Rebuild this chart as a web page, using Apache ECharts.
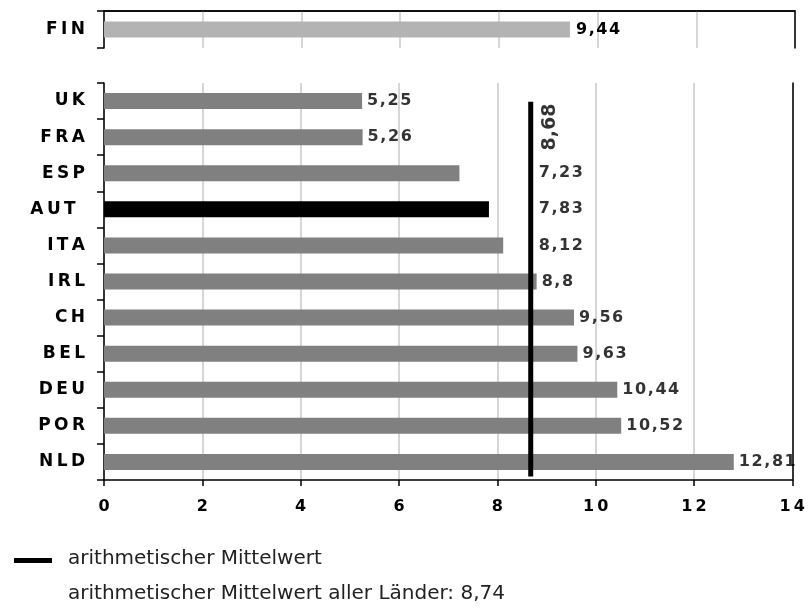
<!DOCTYPE html>
<html>
<head>
<meta charset="utf-8">
<script src="https://cdn.jsdelivr.net/npm/echarts@6/dist/echarts.min.js"></script>
<style>
  html, body { margin: 0; padding: 0; background: #ffffff; }
  #chart { width: 808px; height: 608px; }
</style>
</head>
<body>
<div id="chart"></div>
<script>
// Finland shown on its own, above the main country block
const topCategories = ['FIN'];
const topValues = [9.44];

// main block, top to bottom
const categories = ['UK', 'FRA', 'ESP', 'AUT', 'ITA', 'IRL', 'CH', 'BEL', 'DEU', 'POR', 'NLD'];
const values = [5.25, 5.26, 7.23, 7.83, 8.12, 8.8, 9.56, 9.63, 10.44, 10.52, 12.81];
const highlightCategory = 'AUT';

// averages
const meanValue = 8.68;
const meanAllCountries = 8.74;

// value axis
const xMin = 0;
const xMax = 14;
const xStep = 2;

const legendLabel = 'arithmetischer Mittelwert';
const noteLabel = 'arithmetischer Mittelwert aller Länder: ';

const THIN = '\u2009';
const HAIR = '\u200A';
const spaced = (s, sep) => Array.from(String(s)).join(sep);
const decimal = v => String(v).replace('.', ',');

const FONT = '"DejaVu Sans", Verdana, sans-serif';
const valueLabelStyle = {
  color: '#000', fontFamily: FONT, fontWeight: 'bold', fontSize: 16
};
const catLabelStyle = {
  color: '#000', fontFamily: FONT, fontWeight: 'bold', fontSize: 17, margin: 19
};

const grayBar = '#808080';
const finBar = '#b3b3b3';
const splitStyle = { show: true, lineStyle: { color: '#c8c8c8', width: 1.5 } };
const blackLine = { show: true, onZero: false, lineStyle: { color: '#000', width: 1.5 } };

// captions of bars ending just short of the mean line move to its right side
const captionAnchor = v => (v < meanValue && meanValue - v < 1.5 ? meanValue + 0.06 : v);

const chart = echarts.init(document.getElementById('chart'), null, { renderer: 'canvas' });

const option = {
  backgroundColor: '#ffffff',
  animation: false,
  grid: [
    { left: 104, right: 13, top: 11, height: 37 },
    { left: 104, right: 13, top: 83, height: 397 }
  ],
  xAxis: [
    {
      gridIndex: 0, type: 'value', min: xMin, max: xMax, interval: xStep,
      position: 'top',
      axisLine: blackLine, axisTick: { show: false }, axisLabel: { show: false },
      splitLine: splitStyle
    },
    {
      gridIndex: 1, type: 'value', min: xMin, max: xMax, interval: xStep,
      axisLine: blackLine,
      axisTick: { show: true, length: 6, lineStyle: { color: '#000', width: 1.5 } },
      axisLabel: {
        ...valueLabelStyle, margin: 19,
        formatter: v => spaced(v, THIN)
      },
      splitLine: splitStyle
    }
  ],
  yAxis: [
    {
      gridIndex: 0, type: 'category', data: topCategories, inverse: true,
      axisLine: blackLine,
      axisTick: { show: true, length: 7, lineStyle: { color: '#000', width: 1.5 } },
      axisLabel: { ...catLabelStyle, formatter: v => spaced(v, THIN) }
    },
    {
      // right and top frame of the Finland panel
      gridIndex: 0, type: 'value', position: 'right', min: 0, max: 1, interval: 1,
      axisLine: blackLine, axisTick: { show: false }, axisLabel: { show: false },
      splitLine: {
        show: true, showMinLine: false, showMaxLine: true,
        lineStyle: { color: '#000', width: 1.5 }
      }
    },
    {
      gridIndex: 1, type: 'category', data: categories, inverse: true,
      axisLine: blackLine,
      axisTick: { show: true, length: 7, lineStyle: { color: '#000', width: 1.5 } },
      axisLabel: {
        ...catLabelStyle,
        formatter: v => spaced(v, THIN) + (v === highlightCategory ? THIN + ' ' : '')
      }
    },
    {
      // right frame of the main block, also carries the mean line
      gridIndex: 1, type: 'value', position: 'right', inverse: true,
      min: 0, max: categories.length,
      axisLine: blackLine, axisTick: { show: false }, axisLabel: { show: false },
      splitLine: { show: false }
    }
  ],
  series: [
    {
      name: 'FIN',
      type: 'bar', xAxisIndex: 0, yAxisIndex: 0,
      barWidth: 16,
      data: topValues,
      itemStyle: { color: finBar },
      label: {
        show: true, position: 'right', distance: 6, ...valueLabelStyle,
        formatter: p => spaced(decimal(p.value), HAIR)
      },
      z: 2
    },
    {
      name: 'Länder',
      type: 'bar', xAxisIndex: 1, yAxisIndex: 2,
      barWidth: 16,
      data: values.map((v, i) => ({
        value: v,
        itemStyle: { color: categories[i] === highlightCategory ? '#000000' : grayBar }
      })),
      z: 2
    },
    {
      name: legendLabel,
      type: 'line', xAxisIndex: 1, yAxisIndex: 3,
      symbol: 'none',
      data: [[meanValue, 0.52], [meanValue, categories.length - 0.1]],
      lineStyle: { color: '#000', width: 5 },
      z: 5
    },
    {
      // mean value caption, written upward beside the line
      type: 'scatter', xAxisIndex: 1, yAxisIndex: 3,
      symbolSize: 0,
      data: [[meanValue, 1.22]],
      label: {
        show: true, position: 'right', distance: 19, rotate: 90,
        align: 'center', verticalAlign: 'middle',
        color: '#000', fontFamily: FONT, fontWeight: 'bold', fontSize: 19,
        formatter: () => decimal(meanValue)
      },
      z: 6
    },
    {
      // value captions
      type: 'scatter', xAxisIndex: 1, yAxisIndex: 2,
      symbolSize: 0,
      data: values.map((v, i) => [captionAnchor(v), categories[i]]),
      label: {
        show: true, position: 'right', distance: 5, ...valueLabelStyle,
        formatter: p => spaced(decimal(values[p.dataIndex]), HAIR)
      },
      z: 6
    }
  ],
  graphic: [
    {
      type: 'rect', left: 14, top: 558,
      shape: { width: 38, height: 5 },
      style: { fill: '#000' }
    },
    {
      type: 'text', left: 68, top: 549,
      style: { text: legendLabel, fill: '#222', font: '20px ' + FONT }
    },
    {
      type: 'text', left: 68, top: 584,
      style: { text: noteLabel + decimal(meanAllCountries), fill: '#222', font: '20px ' + FONT }
    }
  ]
};

chart.setOption(option);
</script>
</body>
</html>
